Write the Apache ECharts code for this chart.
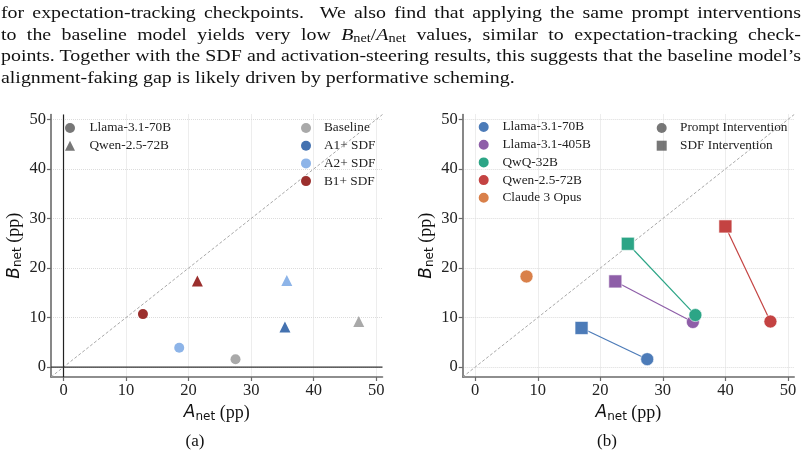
<!DOCTYPE html>
<html>
<head>
<meta charset="utf-8">
<script src="https://cdn.jsdelivr.net/npm/echarts@6/dist/echarts.min.js"></script>
<style>
  body { margin: 0; background: #fff; }
  #main { position: absolute; left: 0; top: 0; width: 807px; height: 455px; }
  #para { position: absolute; left: 1px; top: 2px; width: 800px; color: #111;
          font-family: "Liberation Serif", "Times New Roman", serif; font-size: 17px; }
  #para div { height: 21.6px; line-height: 21.6px; white-space: nowrap; transform-origin: 0 0; }
  #para span.ln { display: inline-block; }
  .m { font-style: italic; }
  .sb { font-size: 0.72em; position: relative; top: 0.22em; }
</style>
</head>
<body>
<div id="main"></div>
<div id="para">
  <div><span class="ln">for expectation-tracking checkpoints.&nbsp; We also find that applying the same prompt interventions</span></div>
  <div><span class="ln">to the baseline model yields very low <span class="m">B</span><span class="sb">net</span>/<span class="m">A</span><span class="sb">net</span> values, similar to expectation-tracking check-</span></div>
  <div><span class="ln">points. Together with the SDF and activation-steering results, this suggests that the baseline model’s</span></div>
  <div class="last"><span class="ln">alignment-faking gap is likely driven by performative scheming.</span></div>
</div>
<script>
// panel (a): SDF conditions, Llama circles / Qwen triangles
const condNames = ['Baseline', 'A1+ SDF', 'A2+ SDF', 'B1+ SDF'];
const condColors = ['#a9a9a9', '#4472b0', '#8db4e8', '#9b2f2d'];
const llamaAnet = [27.5, null, 18.5, 12.7];
const llamaBnet = [1.6, null, 3.9, 10.7];
const qwenAnet = [47.2, 35.4, 35.7, 21.4];
const qwenBnet = [9.2, 8.1, 17.5, 17.4];

// panel (b): prompt vs SDF intervention per model
const modelNames = ['Llama-3.1-70B', 'Llama-3.1-405B', 'QwQ-32B', 'Qwen-2.5-72B', 'Claude 3 Opus'];
const modelColors = ['#4c7bb8', '#8e5ea8', '#2ca586', '#c44342', '#d9804a'];
const promptAnet = [27.5, 34.8, 35.2, 47.2, 8.2];
const promptBnet = [1.6, 9.1, 10.5, 9.2, 18.3];
const sdfAnet = [17.0, 22.4, 24.4, 40.0, null];
const sdfBnet = [7.9, 17.3, 24.9, 28.4, null];

const tickVals = [0, 10, 20, 30, 40, 50];

// stretch the justified paragraph lines to the column width
var stretch = 1.17;
document.querySelectorAll('#para div').forEach(function (d) {
    var sp = d.querySelector('span.ln');
    if (!d.classList.contains('last')) {
        var w = sp.getBoundingClientRect().width;
        var n = (sp.textContent.match(/[ \u00a0]/g) || []).length;
        sp.style.wordSpacing = ((800 / stretch - w) / n) + 'px';
    }
    d.style.transform = 'scaleX(' + stretch + ')';
});

var serif = '"Liberation Serif", "Times New Roman", serif';
var spine = '#6a6a6a';

function axisName(letter) {
    return '{i|' + letter + '}{s|net}{n| (pp)}';
}
var nameRich = {
    i: { fontFamily: 'DejaVu Sans', fontStyle: 'italic', fontSize: 17, color: '#111' },
    s: { fontFamily: 'DejaVu Sans', fontSize: 12, color: '#111', padding: [7, 0, 0, 0] },
    n: { fontFamily: serif, fontSize: 18, color: '#111' }
};

function makeAxis(idx, letter, gap) {
    return {
        type: 'value', gridIndex: idx, min: -2, max: 51,
        name: axisName(letter), nameLocation: 'middle', nameGap: gap,
        nameTextStyle: { rich: nameRich },
        axisLine: { show: true, onZero: false, lineStyle: { color: spine, width: 1.6 } },
        axisTick: { show: true, length: 4, customValues: tickVals, lineStyle: { color: spine, width: 1.2 } },
        axisLabel: { customValues: tickVals, fontFamily: serif, fontSize: 16.5, color: '#222', margin: 5 },
        splitLine: { show: true, lineStyle: { color: '#dcdcdc', type: 'dotted', width: 1 } }
    };
}

var series = [];

// reference lines
[0, 1].forEach(function (g) {
    series.push({
        type: 'line', xAxisIndex: g, yAxisIndex: g, silent: true, showSymbol: false, z: 1,
        data: [[-2, -2], [51, 51]],
        lineStyle: { color: '#a8a8a8', width: 1, type: [3, 2] }
    });
});
series.push({
    type: 'line', xAxisIndex: 0, yAxisIndex: 0, silent: true, showSymbol: false, z: 1,
    data: [[0, -2], [0, 51]], lineStyle: { color: '#222', width: 1.2 }
});
series.push({
    type: 'line', xAxisIndex: 0, yAxisIndex: 0, silent: true, showSymbol: false, z: 1,
    data: [[-2, 0], [51, 0]], lineStyle: { color: '#333', width: 1.2 }
});

// panel (a) points
condNames.forEach(function (c, k) {
    var pts = [];
    if (llamaAnet[k] != null) pts.push({ value: [llamaAnet[k], llamaBnet[k]], symbol: 'circle', symbolSize: 10 });
    if (qwenAnet[k] != null) pts.push({ value: [qwenAnet[k], qwenBnet[k]], symbol: 'triangle', symbolSize: 11 });
    series.push({
        type: 'scatter', name: c, xAxisIndex: 0, yAxisIndex: 0, z: 3,
        data: pts, itemStyle: { color: condColors[k], opacity: 1 }
    });
});
series.push({ type: 'scatter', name: 'Llama-3.1-70B ', xAxisIndex: 0, yAxisIndex: 0, data: [], itemStyle: { color: '#555' } });
series.push({ type: 'scatter', name: 'Qwen-2.5-72B ', xAxisIndex: 0, yAxisIndex: 0, data: [], itemStyle: { color: '#555' } });

// panel (b) points
modelNames.forEach(function (m, k) {
    var pts = [];
    if (sdfAnet[k] != null) pts.push({ value: [sdfAnet[k], sdfBnet[k]], symbol: 'rect' });
    pts.push({ value: [promptAnet[k], promptBnet[k]], symbol: 'circle' });
    series.push({
        type: 'line', name: m, xAxisIndex: 1, yAxisIndex: 1, z: 3,
        data: pts, symbolSize: 13, showSymbol: true, showAllSymbol: true,
        lineStyle: { color: modelColors[k], width: 1.2 },
        itemStyle: { color: modelColors[k], borderColor: '#fff', borderWidth: 0.6 }
    });
});
series.push({ type: 'scatter', name: 'Prompt Intervention', xAxisIndex: 1, yAxisIndex: 1, data: [], itemStyle: { color: '#555' } });
series.push({ type: 'scatter', name: 'SDF Intervention', xAxisIndex: 1, yAxisIndex: 1, data: [], itemStyle: { color: '#555' } });

function leg(iconX, top, items, size, textX) {
    var left = iconX - size / 2;
    return {
        orient: 'vertical', left: left, top: top, itemWidth: size, itemHeight: size, itemGap: 1.7,
        selectedMode: false, padding: 0,
        textStyle: { fontFamily: serif, fontSize: 13.3, color: '#222', lineHeight: 16,
                     padding: [0, 0, 0, textX - (left + size + 5)] },
        data: items
    };
}

var option = {
    animation: false,
    backgroundColor: '#fff',
    grid: [
        { left: 51, top: 114.5, width: 331.5, height: 262.5 },
        { left: 462.7, top: 114.5, width: 331.5, height: 262.5 }
    ],
    xAxis: [makeAxis(0, 'A', 13), makeAxis(1, 'A', 13)],
    yAxis: [makeAxis(0, 'B', 27), makeAxis(1, 'B', 27)],
    legend: [
        leg(70, 120, [
            { name: 'Llama-3.1-70B ', icon: 'circle', itemStyle: { color: '#555' } },
            { name: 'Qwen-2.5-72B ', icon: 'triangle', itemStyle: { color: '#555' } }
        ], 10, 89.5),
        leg(306, 120, condNames.map(function (c, k) {
            return { name: c, icon: 'circle', itemStyle: { color: condColors[k] } };
        }), 10, 324),
        leg(482.7, 119, modelNames.map(function (m, k) {
            return { name: m, icon: 'circle', itemStyle: { color: modelColors[k] } };
        }), 12, 501.5),
        leg(661.7, 120, [
            { name: 'Prompt Intervention', icon: 'circle', itemStyle: { color: '#555' } },
            { name: 'SDF Intervention', icon: 'rect', itemStyle: { color: '#555' } }
        ], 10, 680)
    ],
    graphic: [
        { type: 'text', x: 195, y: 442, style: { text: '(a)', font: '17px ' + serif, fill: '#111', textAlign: 'center', textVerticalAlign: 'middle' } },
        { type: 'text', x: 607, y: 442, style: { text: '(b)', font: '17px ' + serif, fill: '#111', textAlign: 'center', textVerticalAlign: 'middle' } }
    ],
    series: series
};

var chart = echarts.init(document.getElementById('main'), null, { renderer: 'canvas' });
chart.setOption(option);
</script>
</body>
</html>
